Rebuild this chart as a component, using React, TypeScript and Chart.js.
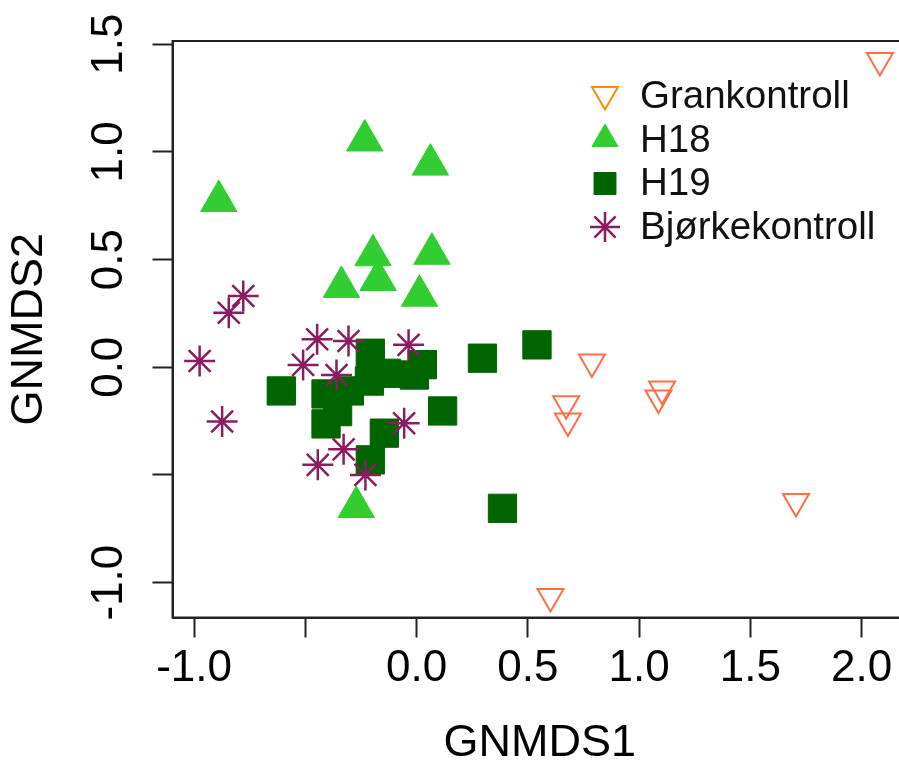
import React, { useEffect, useRef } from 'react';
import { Chart, registerables } from 'chart.js';
import { drawPoint } from 'chart.js/helpers';

Chart.register(...registerables);

// ---- data ----
const SERIES_NAMES = ['Grankontroll', 'H18', 'H19', 'Bjørkekontroll'];

const GRAN_X = [2.082, 0.788, 0.672, 0.680, 1.103, 1.087, 0.602, 1.705];
const GRAN_Y = [1.425, 0.025, -0.170, -0.249, -0.101, -0.143, -1.064, -0.623];

const H18_X = [-0.889, -0.233, 0.062, -0.196, 0.069, -0.173, -0.338, 0.013, -0.271];
const H18_Y = [0.772, 1.053, 0.941, 0.520, 0.527, 0.405, 0.373, 0.332, -0.649];

const H19_X = [-0.608, -0.208, 0.026, -0.010, -0.136, -0.212, -0.302, -0.407, -0.355, -0.407, -0.145, -0.208, 0.117, 0.296, 0.541, 0.386];
const H19_Y = [-0.110, 0.065, 0.012, -0.036, -0.028, -0.064, -0.110, -0.124, -0.206, -0.263, -0.306, -0.430, -0.203, 0.042, 0.104, -0.655];

const BJORK_X = [-0.779, -0.844, -0.975, -0.874, -0.447, -0.306, -0.510, -0.360, -0.036, -0.056, -0.328, -0.444, -0.230];
const BJORK_Y = [0.331, 0.253, 0.029, -0.252, 0.130, 0.122, 0.011, -0.036, 0.104, -0.260, -0.381, -0.453, -0.500];

const X_TICKS = [-1.0, -0.5, 0.0, 0.5, 1.0, 1.5, 2.0];
const X_TICK_LABELS = ['-1.0', '', '0.0', '0.5', '1.0', '1.5', '2.0'];
const Y_TICKS = [-1.0, -0.5, 0.0, 0.5, 1.0, 1.5];
const Y_TICK_LABELS = ['-1.0', '', '0.0', '0.5', '1.0', '1.5'];
const X_TITLE = 'GNMDS1';
const Y_TITLE = 'GNMDS2';
const X_MIN = -1.097;
const X_MAX = 2.204;
const Y_MIN = -1.162;
const Y_MAX = 1.515;

// ---- styles ----
const FONT = '"Liberation Sans", Arial, Helvetica, sans-serif';
const AXIS_COLOR = '#222222';
const CANVAS_W = 920;
const CANVAS_H = 762;

type Style = {
  pointStyle: string;
  rotation: number;
  radius: number;
  fill: string;
  stroke: string;
  borderWidth: number;
  legendRadius: number;
  legendStroke: string;
  legendFill: string;
  order: number;
};

const STYLES: Style[] = [
  { pointStyle: 'triangle', rotation: 180, radius: 15, fill: 'rgba(0,0,0,0)', stroke: '#FF6E4A', borderWidth: 2, legendRadius: 15, legendStroke: '#FF8C00', legendFill: 'rgba(0,0,0,0)', order: 3 },
  { pointStyle: 'triangle', rotation: 0, radius: 21, fill: '#32CD32', stroke: '#32CD32', borderWidth: 1, legendRadius: 15, legendStroke: '#32CD32', legendFill: '#32CD32', order: 2 },
  { pointStyle: 'rect', rotation: 0, radius: 20, fill: '#006400', stroke: '#006400', borderWidth: 1, legendRadius: 15.5, legendStroke: '#006400', legendFill: '#006400', order: 1 },
  { pointStyle: 'star', rotation: 0, radius: 15.5, fill: 'rgba(0,0,0,0)', stroke: '#8B1C62', borderWidth: 2.5, legendRadius: 15, legendStroke: '#8B1C62', legendFill: 'rgba(0,0,0,0)', order: 0 },
];

const SERIES_X = [GRAN_X, H18_X, H19_X, BJORK_X];
const SERIES_Y = [GRAN_Y, H18_Y, H19_Y, BJORK_Y];

const overlayPlugin = {
  id: 'overlay',
  afterDraw(chart: any) {
    const { ctx, chartArea: a, scales } = chart;
    ctx.save();
    // plot box
    ctx.strokeStyle = AXIS_COLOR;
    ctx.lineWidth = 2;
    ctx.strokeRect(a.left, a.top, a.right - a.left, a.bottom - a.top);

    // rotated y tick labels (R style)
    ctx.fillStyle = '#000';
    ctx.font = `44px ${FONT}`;
    ctx.textAlign = 'center';
    ctx.textBaseline = 'middle';
    Y_TICKS.forEach((v, i) => {
      const lbl = Y_TICK_LABELS[i];
      if (!lbl) return;
      const py = scales.y.getPixelForValue(v);
      ctx.save();
      ctx.translate(110, py);
      ctx.rotate(-Math.PI / 2);
      ctx.fillText(lbl, 0, 0);
      ctx.restore();
    });

    // legend
    const lx = 605;
    const ly0 = 96.5;
    const step = 43.5;
    ctx.font = `38.5px ${FONT}`;
    ctx.textAlign = 'left';
    ctx.textBaseline = 'middle';
    SERIES_NAMES.forEach((name, i) => {
      const st = STYLES[i];
      const cy = ly0 + i * step;
      ctx.save();
      ctx.fillStyle = st.legendFill;
      ctx.strokeStyle = st.legendStroke;
      ctx.lineWidth = st.borderWidth;
      let sy = cy;
      if (st.pointStyle === 'triangle' && st.rotation === 180) sy = cy - 2;
      if (st.pointStyle === 'triangle' && st.rotation === 0) sy = cy - 1;
      drawPoint(ctx, { pointStyle: st.pointStyle as any, rotation: st.rotation, radius: st.legendRadius, borderWidth: st.borderWidth }, lx, sy);
      ctx.restore();
      ctx.fillStyle = '#111';
      ctx.fillText(name, 640, cy + 1);
    });
    ctx.restore();
  },
};

export default function App() {
  const ref = useRef<HTMLCanvasElement | null>(null);

  useEffect(() => {
    if (!ref.current) return;
    const datasets = SERIES_NAMES.map((name, i) => {
      const st = STYLES[i];
      return {
        label: name,
        data: SERIES_X[i].map((x, j) => ({ x, y: SERIES_Y[i][j] })),
        pointStyle: st.pointStyle,
        pointRotation: st.rotation,
        pointRadius: st.radius,
        pointHoverRadius: st.radius,
        pointBackgroundColor: st.fill,
        pointBorderColor: st.stroke,
        pointBorderWidth: st.borderWidth,
        backgroundColor: st.fill,
        borderColor: st.stroke,
        showLine: false,
        order: st.order,
        clip: 40,
      };
    });

    const chart = new Chart(ref.current, {
      type: 'scatter',
      data: { datasets } as any,
      plugins: [overlayPlugin],
      options: {
        animation: false,
        responsive: false,
        maintainAspectRatio: false,
        devicePixelRatio: 1,
        events: [],
        layout: { autoPadding: false, padding: { left: 0, top: 41, right: 13, bottom: 0 } },
        plugins: {
          legend: { display: false },
          tooltip: { enabled: false },
        },
        scales: {
          x: {
            type: 'linear',
            position: 'bottom',
            min: X_MIN,
            max: X_MAX,
            afterBuildTicks: (s: any) => {
              s.ticks = X_TICKS.map((v) => ({ value: v }));
            },
            afterFit: (s: any) => {
              s.height = 144.5;
              s.paddingLeft = 0;
              s.paddingRight = 0;
            },
            grid: {
              drawOnChartArea: false,
              drawTicks: true,
              tickLength: 20,
              tickWidth: 2,
              tickColor: AXIS_COLOR,
              color: AXIS_COLOR,
            },
            border: { display: true, color: AXIS_COLOR, width: 2 },
            ticks: {
              autoSkip: false,
              maxRotation: 0,
              minRotation: 0,
              padding: 9,
              color: '#000',
              font: { family: FONT, size: 44, lineHeight: 1 },
              callback: (v: any) => {
                const idx = X_TICKS.findIndex((t) => Math.abs(t - Number(v)) < 1e-9);
                return idx >= 0 ? X_TICK_LABELS[idx] : '';
              },
            },
            title: {
              display: true,
              text: X_TITLE,
              color: '#000',
              font: { family: FONT, size: 45, lineHeight: 0.8 },
              padding: { top: 0, bottom: 0 },
            },
          },
          y: {
            type: 'linear',
            position: 'left',
            min: Y_MIN,
            max: Y_MAX,
            afterBuildTicks: (s: any) => {
              s.ticks = Y_TICKS.map((v) => ({ value: v }));
            },
            afterFit: (s: any) => {
              s.width = 172.5;
              s.paddingTop = 0;
              s.paddingBottom = 0;
            },
            grid: {
              drawOnChartArea: false,
              drawTicks: true,
              tickLength: 20,
              tickWidth: 2,
              tickColor: AXIS_COLOR,
              color: AXIS_COLOR,
            },
            border: { display: true, color: AXIS_COLOR, width: 2 },
            ticks: { display: false },
            title: {
              display: true,
              text: Y_TITLE,
              color: '#000',
              font: { family: FONT, size: 45, lineHeight: 0.8 },
              padding: { top: 12, bottom: 0 },
            },
          },
        },
      } as any,
    });
    return () => chart.destroy();
  }, []);

  return (
    <div style={{ position: 'fixed', left: 0, top: 0, width: 899, height: 762, overflow: 'hidden', background: '#fff' }}>
      <div style={{ position: 'absolute', left: 0, top: 0, width: CANVAS_W, height: CANVAS_H }}>
        <canvas ref={ref} width={CANVAS_W} height={CANVAS_H} style={{ width: CANVAS_W, height: CANVAS_H, display: 'block' }} />
      </div>
    </div>
  );
}
